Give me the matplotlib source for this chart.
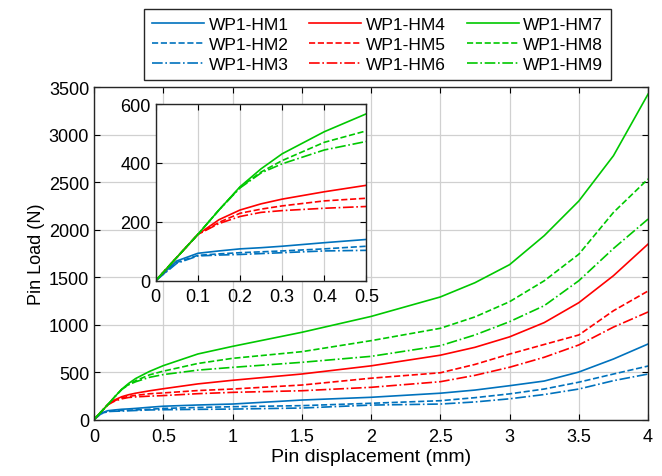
import matplotlib
matplotlib.use('Agg')
from matplotlib import pyplot as plt

plt.rcParams['font.family'] = ['Liberation Sans', 'DejaVu Sans']

# displacement (mm) at which values were read
disp = [0, 0.05, 0.1, 0.15, 0.2, 0.25, 0.3, 0.4, 0.5, 0.75, 1, 1.5, 2, 2.5, 2.75, 3, 3.25, 3.5, 3.75, 4]

# pin load (N)
hm1 = [0, 67, 93, 101, 108, 112, 117, 129, 140, 153, 163, 205, 234, 277, 310, 356, 405, 500, 637, 795]
hm2 = [0, 62, 86, 91, 95, 98, 101, 108, 117, 127, 135, 146, 171, 198, 230, 270, 321, 393, 479, 563]
hm3 = [0, 59, 84, 87, 89, 92, 95, 101, 103, 107, 110, 121, 152, 163, 185, 218, 263, 321, 409, 479]
hm4 = [0, 79, 157, 207, 240, 261, 277, 302, 324, 375, 413, 479, 565, 677, 760, 870, 1020, 1230, 1514, 1847]
hm5 = [0, 79, 157, 198, 229, 243, 254, 271, 280, 305, 321, 363, 435, 492, 580, 689, 790, 890, 1145, 1353]
hm6 = [0, 79, 157, 194, 218, 232, 238, 246, 252, 272, 286, 303, 339, 398, 465, 550, 655, 785, 973, 1132]
hm7 = [0, 79, 157, 240, 319, 380, 431, 506, 567, 690, 770, 918, 1085, 1290, 1440, 1630, 1935, 2300, 2777, 3426]
hm8 = [0, 79, 157, 240, 317, 369, 408, 470, 509, 590, 644, 714, 830, 960, 1080, 1240, 1460, 1740, 2180, 2532]
hm9 = [0, 79, 157, 240, 315, 366, 397, 444, 473, 520, 549, 602, 665, 777, 890, 1030, 1198, 1461, 1800, 2110]

labels = ['WP1-HM1', 'WP1-HM2', 'WP1-HM3', 'WP1-HM4', 'WP1-HM5',
          'WP1-HM6', 'WP1-HM7', 'WP1-HM8', 'WP1-HM9']
series = [hm1, hm2, hm3, hm4, hm5, hm6, hm7, hm8, hm9]

blue, red, green = '#0072BD', '#FF0000', '#00C800'
colors = [blue] * 3 + [red] * 3 + [green] * 3
styles = ['-', '--', '-.'] * 3

fig = plt.figure(figsize=(6.62, 4.77), dpi=100)
ax = fig.add_axes([0.142, 0.1184, 0.837, 0.6971])

lines = []
for y, c, s, lab in zip(series, colors, styles, labels):
    l, = ax.plot(disp, y, color=c, ls=s, lw=1.2, label=lab)
    lines.append(l)

def style(a):
    a.grid(True, color='#d0d0d0', lw=0.9)
    a.set_axisbelow(True)
    a.tick_params(direction='in', top=True, right=True, labelsize=13, length=4)
    for sp in a.spines.values():
        sp.set_color('#262626')
        sp.set_linewidth(1.0)

ax.set_xlim(0, 4)
ax.set_ylim(0, 3500)
ax.set_xticks([0, 0.5, 1, 1.5, 2, 2.5, 3, 3.5, 4])
ax.set_xticklabels(['0', '0.5', '1', '1.5', '2', '2.5', '3', '3.5', '4'])
ax.set_yticks(range(0, 3501, 500))
style(ax)
ax.tick_params(axis='x', pad=6)
ax.set_xlabel('Pin displacement (mm)', fontsize=14, labelpad=2)
ax.set_ylabel('Pin Load (N)', fontsize=13, labelpad=3)

# inset
ins = fig.add_axes([0.2352, 0.4095, 0.3184, 0.3703])
for y, c, s in zip(series, colors, styles):
    ins.plot(disp, y, color=c, ls=s, lw=1.2)
ins.set_xlim(0, 0.5)
ins.set_ylim(0, 600)
ins.set_xticks([0, 0.1, 0.2, 0.3, 0.4, 0.5])
ins.set_xticklabels(['0', '0.1', '0.2', '0.3', '0.4', '0.5'])
ins.set_yticks([0, 200, 400, 600])
style(ins)
ins.tick_params(axis='x', pad=5)
ins.set_facecolor('white')

leg = fig.legend(lines, labels,
                 ncol=3, loc='center', bbox_to_anchor=(377.5 / 662, 1 - 45.5 / 477),
                 fontsize=12.5, handlelength=3.0, handletextpad=0.25,
                 columnspacing=1.2, labelspacing=0.3, borderpad=0.45,
                 fancybox=False, framealpha=1)
leg.get_frame().set_edgecolor('#262626')
leg.get_frame().set_linewidth(1.0)

fig.savefig('out.png', dpi=100)
